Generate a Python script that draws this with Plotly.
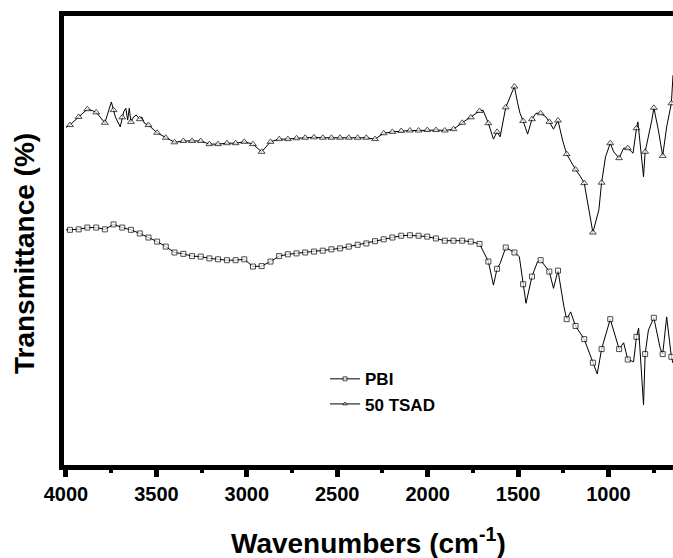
import plotly.graph_objects as go

# Wavenumbers (cm-1) at which the symbols are drawn (shared by both spectra)
wavenumber_markers = [3978, 3930, 3882, 3833, 3785, 3737, 3689, 3641, 3592, 3544,
                      3496, 3448, 3400, 3351, 3303, 3255, 3207, 3159, 3110, 3062,
                      3014, 2966, 2918, 2869, 2821, 2773, 2725, 2677, 2628, 2580,
                      2532, 2484, 2436, 2387, 2339, 2291, 2243, 2195, 2146, 2098,
                      2050, 2002, 1954, 1905, 1857, 1809, 1761, 1713, 1664, 1616,
                      1568, 1520, 1472, 1423, 1375, 1327, 1279, 1231, 1182, 1134,
                      1086, 1038, 990, 941, 893, 845, 797, 749, 700, 652]

# Transmittance (arbitrary, %) at the symbol positions
pbi_markers = [52.3, 52.4, 52.8, 52.8, 52.4, 53.5, 52.8, 52.3, 51.5, 50.6,
               49.7, 48.6, 47.3, 47.0, 46.5, 46.4, 46.0, 45.8, 45.6, 45.6,
               45.8, 44.2, 44.3, 45.3, 46.5, 46.9, 47.1, 47.3, 47.5, 47.7,
               48.0, 48.2, 48.6, 49.0, 49.3, 49.8, 50.2, 50.6, 51.0, 51.1,
               51.0, 50.8, 50.4, 49.9, 49.9, 49.9, 49.7, 49.2, 45.3, 43.7,
               48.4, 47.3, 40.3, 42.0, 45.6, 43.1, 43.3, 32.6, 31.1, 28.2,
               23.0, 26.0, 32.6, 26.0, 23.7, 28.7, 24.9, 32.9, 24.9, 24.3]

tsad_markers = [75.4, 77.2, 78.9, 78.2, 75.9, 78.7, 77.1, 76.1, 76.7, 75.4,
                73.7, 72.6, 71.6, 71.9, 71.9, 71.9, 71.2, 71.2, 71.4, 71.4,
                71.7, 71.2, 69.5, 71.7, 72.3, 72.3, 72.5, 72.6, 72.7, 72.6,
                72.6, 72.6, 72.6, 72.6, 72.6, 72.3, 73.6, 73.9, 74.1, 74.2,
                74.2, 74.3, 74.3, 74.2, 74.5, 75.9, 77.1, 78.5, 75.8, 73.9,
                79.3, 83.9, 76.3, 76.7, 78.0, 76.1, 76.4, 69.0, 65.6, 62.6,
                51.7, 62.7, 71.4, 68.1, 70.3, 74.7, 69.5, 79.2, 68.6, 80.2]

# Extra spectrum points between symbols (line detail only)
pbi_detail_wn = [4000, 1636, 1599, 1493, 1456, 1392, 1304, 1246, 1209, 1062,
                 916, 861, 833, 806, 779, 714, 678, 643]
pbi_detail_t = [52.3, 40.1, 44.9, 46.4, 36.1, 45.3, 39.4, 35.3, 34.2, 20.5,
                27.4, 23.2, 30.6, 13.7, 30.2, 26.2, 33.1, 22.9]

tsad_detail_wn = [4000, 3855, 3764, 3749, 3727, 3700, 3681, 3669, 3659, 3650,
                  3626, 3612, 3581, 3566, 1731, 1694, 1636, 1599, 1533, 1502,
                  1489, 1447, 1401, 1346, 1304, 1254, 1154, 1053, 1016, 971,
                  916, 864, 837, 806, 760, 724, 678, 643]
tsad_detail_t = [74.9, 78.6, 78.7, 80.5, 77.2, 75.0, 78.3, 79.1, 76.5, 79.1,
                 77.2, 77.6, 77.2, 75.8, 78.0, 78.7, 72.3, 72.8, 82.4, 80.2,
                 78.0, 73.4, 78.0, 77.2, 74.5, 72.1, 64.0, 56.7, 68.4, 69.5,
                 70.3, 69.2, 76.1, 64.0, 76.5, 74.3, 75.0, 86.4]

x_tick_values = [4000, 3500, 3000, 2500, 2000, 1500, 1000]
x_tick_labels = ["4000", "3500", "3000", "2500", "2000", "1500", "1000"]


def build(marker_t, det_wn, det_t, msize):
    pts = [(w, t, msize) for w, t in zip(wavenumber_markers, marker_t)]
    pts += [(w, t, 0) for w, t in zip(det_wn, det_t)]
    pts.sort(key=lambda p: -p[0])
    return [p[0] for p in pts], [p[1] for p in pts], [p[2] for p in pts]


FONT = "Liberation Sans, Arial, sans-serif"

fig = go.Figure()

x, y, s = build(pbi_markers, pbi_detail_wn, pbi_detail_t, 5)
fig.add_trace(go.Scatter(
    x=x, y=y, mode="lines+markers", name="PBI",
    line=dict(color="black", width=1),
    marker=dict(symbol="square", size=s, color="white",
                line=dict(color="black", width=1)),
))

x, y, s = build(tsad_markers, tsad_detail_wn, tsad_detail_t, 6)
fig.add_trace(go.Scatter(
    x=x, y=y, mode="lines+markers", name="50 TSAD",
    line=dict(color="black", width=1),
    marker=dict(symbol="triangle-up", size=s, color="white",
                line=dict(color="black", width=1)),
))

fig.update_layout(
    width=673, height=558,
    margin=dict(l=64, r=0, t=16, b=93),
    paper_bgcolor="white", plot_bgcolor="white",
    font=dict(family=FONT, color="black"),
    showlegend=True,
    legend=dict(x=0.4286, y=0.231, xanchor="left", yanchor="top",
                bgcolor="rgba(0,0,0,0)",
                font=dict(family=FONT, size=17, color="black", weight="bold")),
    xaxis=dict(
        range=[4011, 643], tickmode="array", tickvals=x_tick_values,
        ticktext=x_tick_labels,
        showline=True, linewidth=5, linecolor="black", mirror=True,
        ticks="outside", ticklen=7, tickwidth=5, tickcolor="black",
        minor=dict(dtick=250, tick0=0, ticks="outside", ticklen=3,
                   tickwidth=4, tickcolor="black", showgrid=False),
        showgrid=False, zeroline=False,
        tickfont=dict(family=FONT, size=20, color="black", weight="bold"),
    ),
    yaxis=dict(
        range=[0.44, 99.45], showline=True, linewidth=5, linecolor="black",
        mirror=False, ticks="", showticklabels=False,
        showgrid=False, zeroline=False,
    ),
    annotations=[
        dict(text="Wavenumbers (cm<sup>-1</sup>)", xref="paper", yref="paper",
             x=0.50, y=-0.213, xanchor="center", yanchor="bottom",
             showarrow=False,
             font=dict(family=FONT, size=28, color="black", weight="bold")),
        dict(text="Transmittance (%)", xref="paper", yref="paper",
             x=-0.0657, y=0.472, xanchor="center", yanchor="middle",
             textangle=-90, showarrow=False,
             font=dict(family=FONT, size=28, color="black", weight="bold")),
    ],
)

fig.write_html(
    "out.html",
    config={"displayModeBar": False},
    post_script="document.body.style.margin='0';document.body.style.overflow='hidden';",
)
